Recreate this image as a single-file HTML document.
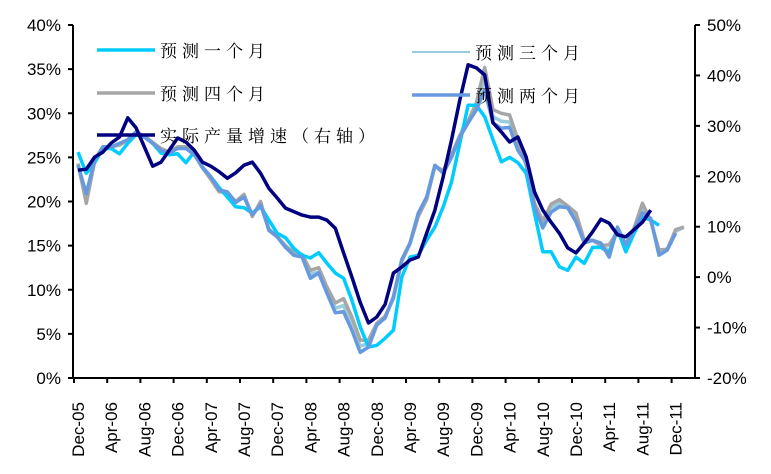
<!DOCTYPE html>
<html><head><meta charset="utf-8">
<style>
html,body{margin:0;padding:0;background:#fff;}
svg{display:block;font-family:"Liberation Sans","Noto Sans CJK SC",sans-serif;}
</style></head>
<body>
<svg id="chart" width="771" height="474" viewBox="0 0 771 474"></svg>
<script>
const months = ["Dec-05","Apr-06","Aug-06","Dec-06","Apr-07","Aug-07","Dec-07","Apr-08","Aug-08","Dec-08","Apr-09","Aug-09","Dec-09","Apr-10","Aug-10","Dec-10","Apr-11","Aug-11","Dec-11"];
const leftTicks = [0,5,10,15,20,25,30,35,40];
const rightTicks = [-20,-10,0,10,20,30,40,50];
const pred1 = [25.6,23.2,24.4,26.0,26.0,25.4,26.6,27.6,27.3,26.6,25.5,25.3,25.4,24.4,25.6,23.9,22.8,21.6,20.5,19.4,19.3,18.7,19.4,17.9,16.4,15.9,14.7,13.9,13.6,14.2,13.0,11.9,11.3,8.8,5.8,3.5,3.7,4.5,5.4,11.4,13.7,13.9,15.6,17.1,19.4,22.2,26.6,30.9,30.9,29.6,27.0,24.5,25.0,24.4,23.2,18.7,14.3,14.3,12.6,12.2,13.7,13.0,14.8,14.8,14.2,16.8,14.3,16.4,18.2,17.9,17.3];
const pred3 = [24.3,20.5,24.5,26.1,26.2,26.4,26.9,27.8,27.4,26.7,25.9,25.5,26.1,26.1,25.4,23.8,22.6,21.2,20.9,20.0,20.6,18.4,19.8,16.9,16.0,14.9,14.0,13.8,11.8,12.0,9.9,7.9,8.2,6.1,3.6,3.9,6.1,6.9,9.1,13.3,15.3,18.5,20.3,24.1,23.4,25.2,27.4,29.0,30.8,33.8,29.6,29.1,29.0,26.4,24.2,19.6,17.4,19.3,19.8,19.4,18.2,15.5,15.6,15.1,14.4,16.8,15.1,16.9,19.2,17.9,14.2,14.6,16.6,17.1];
const pred4 = [24.3,19.8,24.5,26.2,26.2,26.4,27.0,27.9,27.4,26.7,26.0,25.6,26.2,26.2,25.5,23.8,22.5,21.1,21.0,20.0,20.8,18.3,20.0,16.7,16.0,15.0,14.2,14.0,12.2,12.5,10.3,8.5,9.0,6.9,4.3,4.3,6.2,7.0,9.0,13.2,15.2,18.3,20.2,24.0,23.5,25.3,27.5,29.1,31.2,35.2,30.4,30.0,29.8,27.0,24.1,19.8,17.8,19.7,20.2,19.5,18.7,15.6,15.6,15.0,15.1,16.6,15.2,17.0,19.8,17.8,14.5,14.6,16.8,17.1];
const pred2 = [24.1,20.9,24.7,26.2,26.2,26.6,27.0,27.9,27.3,26.6,25.8,25.5,26.0,26.0,25.3,23.9,22.8,21.3,21.1,19.9,20.5,18.5,19.6,16.8,16.0,14.8,13.9,13.7,11.3,11.9,9.6,7.4,7.5,5.4,2.9,3.5,6.0,6.8,9.2,13.4,15.3,18.7,20.5,24.1,23.2,25.0,27.3,28.9,30.4,32.6,28.9,28.3,28.4,25.8,24.4,19.4,17.0,18.8,19.4,19.3,17.7,15.3,15.6,15.3,13.7,17.1,15.1,16.8,18.7,18.1,13.9,14.5,16.4];
const actual = [21.2,21.4,23.8,24.8,26.6,27.8,31.6,29.6,25.8,22.0,22.8,25.2,27.6,26.8,25.2,22.8,22.0,20.9,19.6,20.7,22.2,22.8,20.6,17.6,15.7,13.7,13.0,12.3,11.9,11.9,11.3,9.7,4.8,0.0,-5.0,-9.1,-7.9,-5.4,0.8,2.0,3.4,4.0,8.7,13.3,19.9,27.2,35.1,42.1,41.5,40.1,30.6,28.8,26.8,27.8,23.8,16.9,13.3,10.9,8.7,5.8,4.8,6.8,9.0,11.5,10.7,8.4,8.0,9.4,10.9,13.3];

const NS="http://www.w3.org/2000/svg";
const svg=document.getElementById('chart');
const X0=78, DX=8.3, TOP=25, BOT=378, LAX=73, RAX=695;
function xm(i){return X0+DX*i;}
function yl(v){return BOT-(v/40)*(BOT-TOP);}
function yr(v){return BOT-((v+20)/70)*(BOT-TOP);}
function mk(tag,attrs){const e=document.createElementNS(NS,tag);for(const k in attrs)e.setAttribute(k,attrs[k]);svg.appendChild(e);return e;}

let a=mk('line',{x1:LAX,y1:TOP,x2:LAX,y2:BOT,stroke:'#000','stroke-width':2});


a=mk('line',{x1:RAX,y1:TOP,x2:RAX,y2:BOT,stroke:'#000','stroke-width':2});


a=mk('line',{x1:LAX,y1:BOT,x2:RAX,y2:BOT,stroke:'#000','stroke-width':2});



leftTicks.forEach(v=>{
  const y=yl(v);
  mk('line',{x1:LAX-5,y1:y,x2:LAX,y2:y,stroke:'#000','stroke-width':2});
  const t=mk('text',{x:LAX-12,y:y+6,'text-anchor':'end','font-size':17});
  t.textContent=v+'%';
  
  
});
rightTicks.forEach(v=>{
  const y=yr(v);
  mk('line',{x1:RAX,y1:y,x2:RAX+5,y2:y,stroke:'#000','stroke-width':2});
  const t=mk('text',{x:RAX+12,y:y+6,'text-anchor':'start','font-size':17});
  t.textContent=v+'%';
  
  
});
months.forEach((m,k)=>{
  const xt=xm(k*4)-4;
  mk('line',{x1:xt,y1:BOT,x2:xt,y2:BOT+5,stroke:'#000','stroke-width':2});
  const x=xm(k*4)+6;
  const t=mk('text',{x:x,y:402,'text-anchor':'end','font-size':17,transform:`rotate(-90 ${x} 402)`});
  t.textContent=m;
  
  
});

function series(data,yf,color,w,name){
  const pts=data.map((v,i)=>xm(i).toFixed(1)+','+yf(v).toFixed(1)).join(' ');
  const p=mk('polyline',{points:pts,fill:'none',stroke:color,'stroke-width':w,'stroke-linejoin':'round'});
  
  
}
series(pred3,yl,'#99ccdd',3.5,'series-pred-3-month');
series(pred4,yl,'#a6a6a6',3.5,'series-pred-4-month');
series(pred1,yl,'#00ccff',3.5,'series-pred-1-month');
series(pred2,yl,'#6699dd',3.5,'series-pred-2-month');
series(actual,yr,'#000080',3.5,'series-actual-growth');

const legend=[
 ['预测一个月','#00ccff',97,50,3.5],
 ['预测三个月','#99ccdd',412,52,2],
 ['预测四个月','#a6a6a6',97,93,3.5],
 ['预测两个月','#6699dd',412,95,3.5],
 ['实际产量增速（右轴）','#000080',97,135,3.5]
];
legend.forEach(l=>{
  const ln=mk('line',{x1:l[2],y1:l[3],x2:l[2]+58,y2:l[3],stroke:l[1],'stroke-width':l[4]});
  
  
  const t=mk('text',{x:l[2]+63,y:l[3]+7,'font-size':17,'letter-spacing':'5','font-family':'"Noto Serif CJK SC","Noto Sans CJK SC",serif'});
  t.textContent=l[0];
  
  
});
</script>
</body></html>
